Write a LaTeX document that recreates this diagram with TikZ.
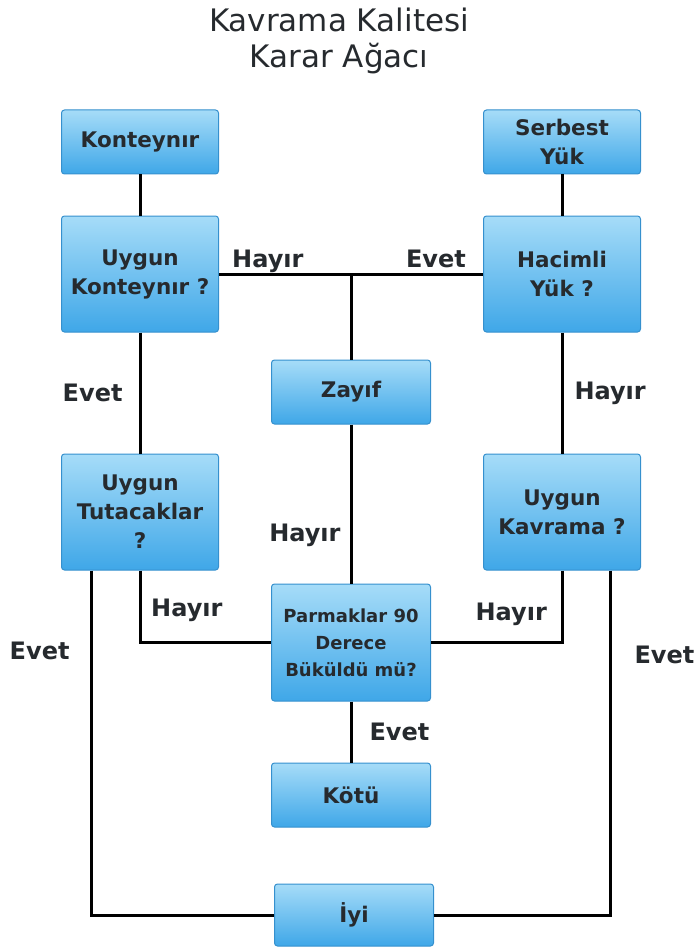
\documentclass[tikz,border=0pt]{standalone}
\usepackage{fontspec}
\setmainfont{DejaVu Sans}
\usepackage{tikz}
\usetikzlibrary{positioning}
\definecolor{boxtop}{HTML}{A6DCF8}
\definecolor{boxmid}{HTML}{6EC4F1}
\definecolor{boxbot}{HTML}{3FA7E8}
\definecolor{boxline}{HTML}{3590CE}
\definecolor{ink}{HTML}{262A2E}

\tikzset{
  boxnode/.style={rounded corners=3pt,draw=boxline,line width=1pt,top color=boxtop,middle color=boxmid,bottom color=boxbot,text=ink,align=center,inner sep=0pt,minimum width=157pt,font=\bfseries\fontsize{21.5}{29}\selectfont},
  flatbox/.style={boxnode,minimum height=64pt},
  tallbox/.style={boxnode,minimum height=116pt},
  answer/.style={text=ink,inner sep=0pt,font=\bfseries\fontsize{24}{27}\selectfont},
  link/.style={line width=3pt}
}

\begin{document}
\begin{tikzpicture}[x=1pt,y=-1pt]
        \useasboundingbox (0,0) rectangle (696,952);
        \node[text=ink,align=center,font=\fontsize{31}{36}\selectfont] (title) at (339,41) {Kavrama Kalitesi\\Karar Ağacı};
        % left column
        \node[flatbox] (cont) at (140,142) {Konteynır};
        \node[tallbox,below=41pt of cont] (ucont) {Uygun\\Konteynır ?};
        \node[tallbox,below=121pt of ucont] (utut) {Uygun\\Tutacaklar\\?};
        % right column
        \node[flatbox] (serb) at (562,142) {Serbest\\Yük};
        \node[tallbox,below=41pt of serb] (hac) {Hacimli\\Yük ?};
        \node[tallbox,below=121pt of hac] (kavr) {Uygun\\Kavrama ?};
        % middle column
        \node[flatbox,minimum width=159pt] (zayif) at (351,392) {Zayıf};
        \node[tallbox,minimum width=159pt,minimum height=117pt,font=\bfseries\fontsize{18}{27}\selectfont,below=159pt of zayif] (parm) {Parmaklar 90\\Derece\\Büküldü mü?};
        \node[flatbox,minimum width=159pt,below=61pt of parm] (kotu) {Kötü};
        \node[flatbox,minimum width=159pt,minimum height=62pt] (iyi) at (354,915) {İyi};
        % connectors
        \draw[link] (cont) -- (ucont);
        \draw[link] (serb) -- (hac);
        \draw[link] (ucont) -- (hac);
        \draw[link] (zayif.north |- ucont.east) -- (zayif);
        \node[answer,anchor=base west] at ([xshift=13pt,yshift=7pt]ucont.east) {Hayır};
        \node[answer,anchor=base east] at ([xshift=-17pt,yshift=7pt]hac.west) {Evet};
        \draw[link] (ucont) -- node[answer,left=16pt] {Evet} (utut);
        \draw[link] (hac) -- node[answer,right=11pt] {Hayır} (kavr);
        \draw[link] (zayif) -- node[answer,pos=0.7,left=9pt] {Hayır} (parm);
        \draw[link] (utut.south) |- (parm);
        \node[answer,anchor=south west] at ([xshift=11pt,yshift=21pt]utut.south |- parm.west) {Hayır};
        \draw[link] (kavr.south) |- (parm);
        \node[answer,anchor=south east] at ([xshift=-15pt,yshift=17pt]kavr.south |- parm.east) {Hayır};
        \draw[link] (parm) -- node[answer,right=17pt] {Evet} (kotu);
        \draw[link] ([xshift=-49pt]utut.south) |- node[answer,pos=0.117,left=20pt] {Evet} (iyi);
        \draw[link] ([xshift=48pt]kavr.south) |- node[answer,pos=0.123,right=23pt] {Evet} (iyi);
      \end{tikzpicture}
\end{document}
